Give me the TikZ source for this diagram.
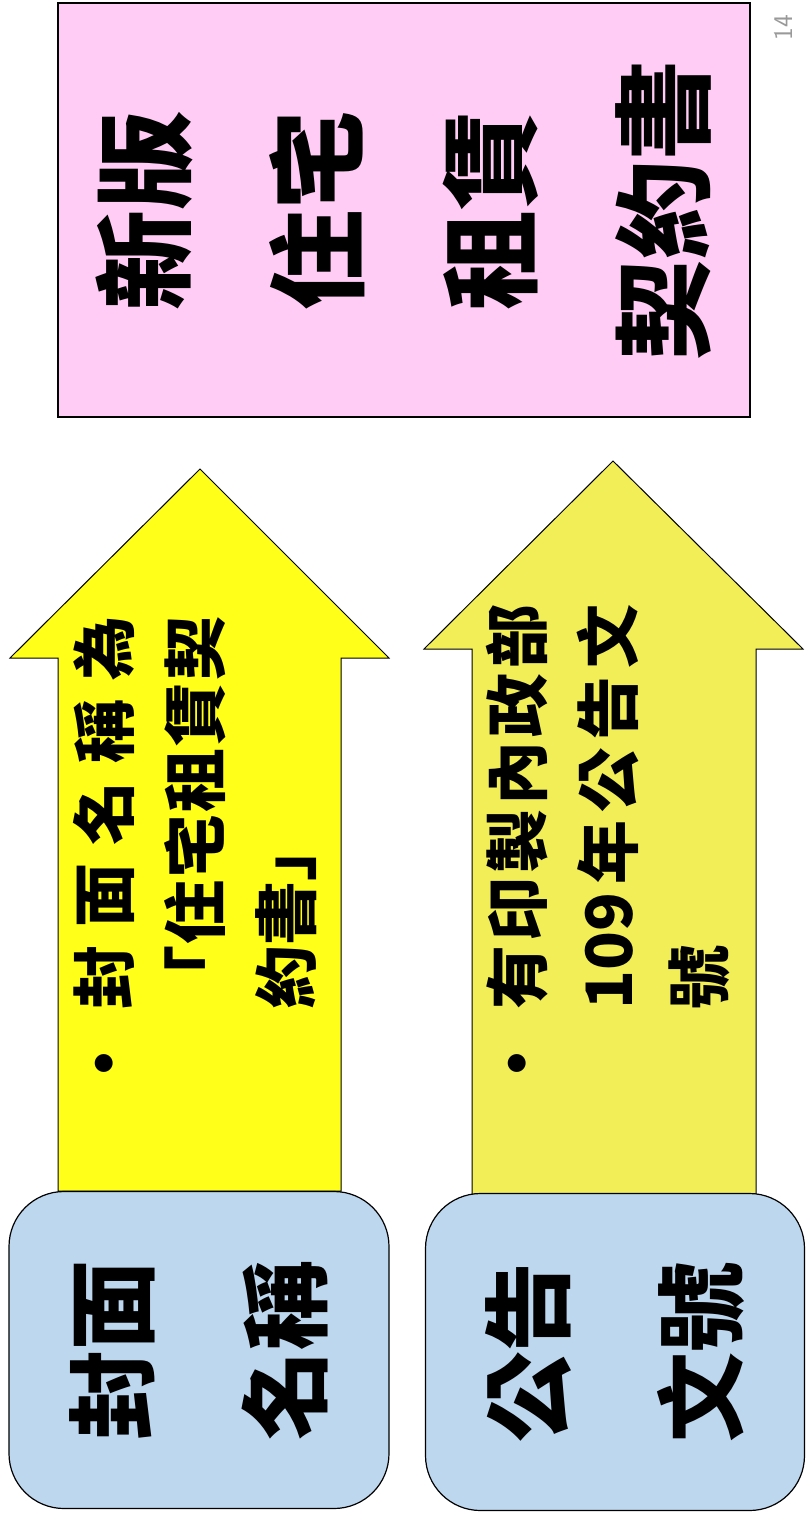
\documentclass[tikz,border=0pt]{standalone}
\usepackage{fontspec}
\newfontfamily\cjk{Noto Sans CJK TC}
\definecolor{arrowyellow}{HTML}{FFFF19}
\definecolor{paleyellow}{HTML}{F1EE58}
\definecolor{tagblue}{HTML}{BDD7EE}
\definecolor{titlepink}{HTML}{FFCCF5}
\tikzstyle{tagbox} = [draw, fill=tagblue, rounded corners=55pt, line width=1.2pt, inner sep=0pt, minimum width=317pt, align=center, font=\cjk\bfseries\fontsize{90}{173}\selectfont]
\tikzstyle{arrowtext} = [inner sep=0pt, align=left, font=\cjk\bfseries\fontsize{64}{91}\selectfont]
\tikzstyle{titlebox} = [draw, fill=titlepink, line width=1.2pt, inner sep=0pt, minimum width=414pt, minimum height=692pt, align=center, font=\cjk\bfseries\fontsize{100}{173}\selectfont]
\newcommand{\dotmark}{\makebox[62pt][l]{\hspace*{-24pt}•}}

\begin{document}
\begin{tikzpicture}[x=1pt,y=-1pt]
			\useasboundingbox (0,0) rectangle (807,1514);
			% the two block arrows
			\draw[fill=arrowyellow,line width=1pt] (58,1191) -- (58,658) -- (10,658) -- (200,469) -- (389,658) -- (341,658) -- (341,1191) -- cycle;
			\draw[fill=paleyellow,line width=1pt] (472,1195) -- (472,649) -- (424,649) -- (613,461) -- (803,649) -- (756,649) -- (756,1195) -- cycle;
			\node[arrowtext,rotate=90,anchor=north west,text width=460pt] (nameText) at (73,1072)
				{\dotmark\makebox[393pt][s]{封\hfill 面\hfill 名\hfill 稱\hfill 為}\\
				\hspace*{62pt}\makebox[393pt][s]{「\hfill 住\hfill 宅\hfill 租\hfill 賃\hfill 契}\\
				\hspace*{62pt}約書」};
			\node[arrowtext,rotate=90,anchor=north west,text width=472pt] (noticeText) at (486,1072)
				{\dotmark\makebox[405pt][s]{有\hfill 印\hfill 製\hfill 內\hfill 政\hfill 部}\\
				\hspace*{62pt}\makebox[405pt][s]{109\hfill 年\hfill 公\hfill 告\hfill 文}\\
				\hspace*{62pt}號};
			% left labels and the title
			\node[tagbox,rotate=90,minimum height=380pt] (coverTag) at (199,1350) {封面\\名稱};
			\node[tagbox,rotate=90,minimum height=379pt] (noticeTag) at (615,1352) {公告\\文號};
			\node[titlebox,rotate=90] (newTitle) at (404,210) {新版\\住宅\\租賃\\契約書};
			\node[rotate=90,text=gray!80,font=\sffamily\fontsize{27}{27}\selectfont] (pageNo) at (783,28) {14};
		\end{tikzpicture}
\end{document}
